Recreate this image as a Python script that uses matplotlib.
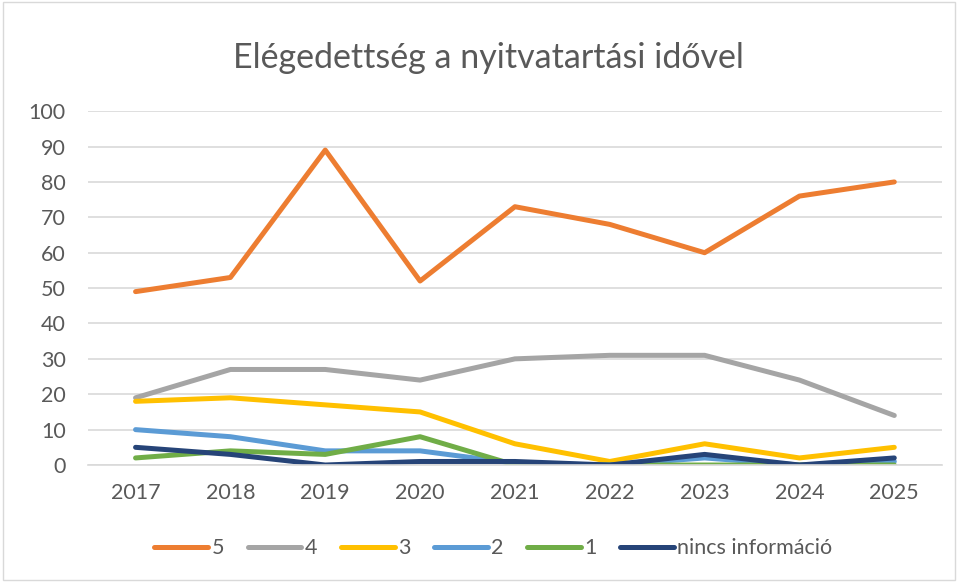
import numpy as np
import matplotlib.pyplot as plt

years = ["2017", "2018", "2019", "2020", "2021", "2022", "2023", "2024", "2025"]
v5 = [49, 53, 89, 52, 73, 68, 60, 76, 80]
v4 = [19, 27, 27, 24, 30, 31, 31, 24, 14]
v3 = [18, 19, 17, 15, 6, 1, 6, 2, 5]
v2 = [10, 8, 4, 4, 0.5, 0, 2, 0, 1]
v1 = [2, 4, 3, 8, 0, 0, 0, 0, 0]
v_none = [5, 3, 0, 1, 1, 0, 3, 0, 2]

labels = ["5", "4", "3", "2", "1", "nincs információ"]
colors = ["#ED7D31", "#A5A5A5", "#FFC000", "#5B9BD5", "#70AD47", "#264478"]

plt.rcParams['font.family'] = ['Lato', 'DejaVu Sans']

fig = plt.figure(figsize=(9.58, 5.82), dpi=100)
ax = fig.add_axes([0.092, 0.201, 0.891, 0.608])

# one line per rating
x = np.arange(len(years))
for vals, lab, col in zip([v5, v4, v3, v2, v1, v_none], labels, colors):
    ax.plot(x, vals, color=col, lw=3.6, label=lab, solid_capstyle='round', solid_joinstyle='round')

ax.set_xlim(-0.5, len(years) - 0.5)
ax.set_ylim(0, 100)
ax.set_yticks(range(0, 101, 10))
ax.set_xticks(x)
ax.set_xticklabels(years)
ax.grid(axis='y', color='#D9D9D9', lw=1.2)
ax.set_axisbelow(True)
for s in ['top', 'right', 'left']:
    ax.spines[s].set_visible(False)
ax.spines['bottom'].set_color('#D9D9D9')
ax.spines['bottom'].set_linewidth(1.2)
ax.tick_params(length=0, labelsize=15.5, colors='#595959')
ax.tick_params(axis='y', pad=16)
ax.tick_params(axis='x', pad=13)

fig.text(0.51, 0.9, "Elégedettség a nyitvatartási idővel", ha='center', va='center',
         fontsize=24.5, color='#595959')

fig.legend(loc='center', bbox_to_anchor=(0.515, 0.058), ncol=6, frameon=False,
           fontsize=15.5, labelcolor='#595959', handlelength=2.5, handletextpad=0.15,
           columnspacing=1.1)

# thin chart border like the Excel frame
fig.patches.append(plt.Rectangle((0.003, 0.003), 0.994, 0.994, transform=fig.transFigure,
                                 fill=False, edgecolor='#D9D9D9', lw=1))

fig.savefig("out.png", dpi=100)
